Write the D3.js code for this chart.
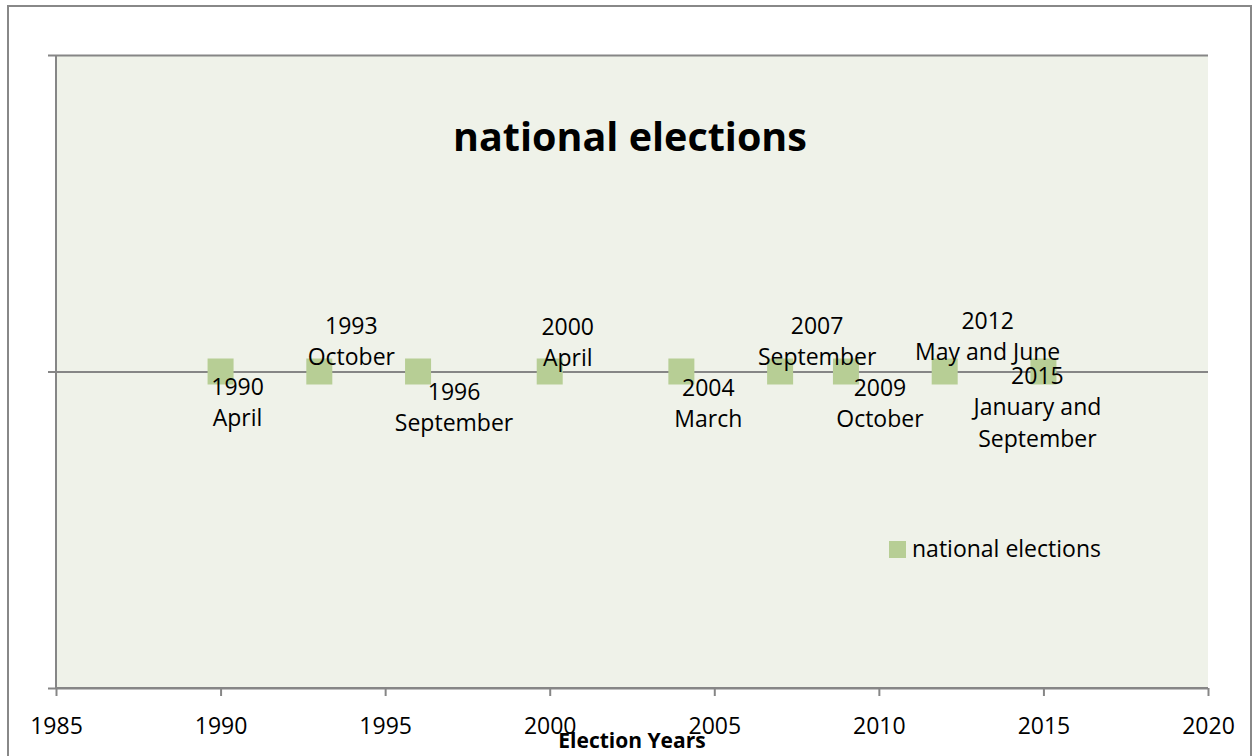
<!DOCTYPE html>
<html>
<head>
<meta charset="utf-8">
<script src="https://cdn.jsdelivr.net/npm/d3@7"></script>
<style>
  html, body { margin: 0; padding: 0; background: #fff; }
  svg { display: block; }
  text { font-family: "Open Sans", "Liberation Sans", sans-serif; fill: #000; }
</style>
</head>
<body>
<svg id="chart" width="1256" height="756"></svg>
<script>
// ---- data ----
const years = [1990, 1993, 1996, 2000, 2004, 2007, 2009, 2012, 2015];
const values = [0, 0, 0, 0, 0, 0, 0, 0, 0];
const labels = [
  ["1990", "April"],
  ["1993", "October"],
  ["1996", "September"],
  ["2000", "April"],
  ["2004", "March"],
  ["2007", "September"],
  ["2009", "October"],
  ["2012", "May and June"],
  ["2015", "January and", "September"]
];
const xTicks = [1985, 1990, 1995, 2000, 2005, 2010, 2015, 2020];
const yTicks = [-1, 0, 1];
const seriesName = "national elections";
const titleText = "national elections";
const xAxisTitle = "Election Years";

// ---- layout (label placement offsets, px relative to marker) ----
const labelOffsets = [
  [17, 23], [32, -38], [36, 28], [18, -37], [27, 24],
  [37, -38], [34, 24], [43, -43], [-6, 12]
];
const lineGap = 31.5;

const svg = d3.select("#chart");
const plot = { left: 56, right: 1208, top: 55, bottom: 688 };
const axisColor = "#868686";

// outer border
svg.append("rect")
  .attr("x", 8).attr("y", 6).attr("width", 1243).attr("height", 800)
  .attr("fill", "#fff").attr("stroke", "#888").attr("stroke-width", 2);

// plot area
svg.append("rect")
  .attr("x", plot.left).attr("y", plot.top)
  .attr("width", plot.right - plot.left).attr("height", plot.bottom - plot.top)
  .attr("fill", "#eff2e9");

const x = d3.scaleLinear().domain([1985, 2020]).range([plot.left, plot.right]);
const y = d3.scaleLinear().domain([-1, 1]).range([plot.bottom, plot.top]);

// y axis with gridlines
const yAxis = d3.axisLeft(y).tickValues(yTicks).tickSize(-(plot.right - plot.left)).tickFormat("");
const yg = svg.append("g").attr("transform", `translate(${plot.left},0)`).call(yAxis);
yg.select(".domain").remove();
yg.selectAll(".tick line").attr("stroke", axisColor).attr("stroke-width", 2)
  .attr("x1", -8);
svg.append("line")
  .attr("x1", plot.left).attr("x2", plot.left)
  .attr("y1", plot.top).attr("y2", plot.bottom)
  .attr("stroke", axisColor).attr("stroke-width", 2);

// x axis
const xAxis = d3.axisBottom(x).tickValues(xTicks).tickFormat(d3.format("d")).tickSize(8).tickPadding(22);
const xg = svg.append("g").attr("transform", `translate(0,${plot.bottom})`).call(xAxis);
xg.select(".domain").attr("stroke", axisColor).attr("stroke-width", 2)
  .attr("d", `M${plot.left},0H${plot.right}`);
xg.selectAll(".tick line").attr("stroke", axisColor).attr("stroke-width", 2);
xg.selectAll(".tick text").style("font-size", "23px").attr("fill", "#000")
  .style("font-family", "'Open Sans', sans-serif");

// markers
const msize = 26;
svg.append("g").selectAll("rect").data(years).join("rect")
  .attr("x", (d) => x(d) - msize / 2)
  .attr("y", (d, i) => y(values[i]) - msize / 2)
  .attr("width", msize).attr("height", msize)
  .attr("fill", "#b7ce95");

// data labels
const lg = svg.append("g");
years.forEach((yr, i) => {
  const cx = x(yr) + labelOffsets[i][0];
  const by = y(values[i]) + labelOffsets[i][1];
  const t = lg.append("text").attr("text-anchor", "middle").style("font-size", "23px");
  labels[i].forEach((line, j) => {
    t.append("tspan").attr("x", cx).attr("y", by + j * lineGap).text(line);
  });
});

// title
svg.append("text").attr("x", 630).attr("y", 151).attr("text-anchor", "middle")
  .style("font-size", "39.5px").style("font-weight", "bold").text(titleText);

// axis title
svg.append("text").attr("x", 632).attr("y", 748).attr("text-anchor", "middle")
  .style("font-size", "21px").style("font-weight", "bold").text(xAxisTitle);

// legend
svg.append("rect").attr("x", 889).attr("y", 541).attr("width", 17).attr("height", 17).attr("fill", "#b7ce95");
svg.append("text").attr("x", 912).attr("y", 557).style("font-size", "23px").text(seriesName);
</script>
</body>
</html>
